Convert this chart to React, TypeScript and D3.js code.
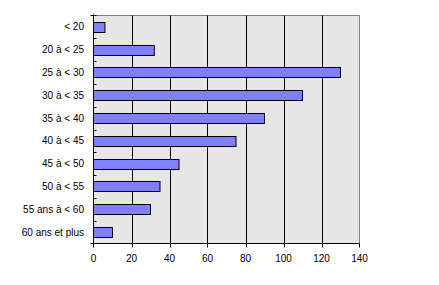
import React from "react";
import * as d3 from "d3";

const categories = ["< 20", "20 à < 25", "25 à < 30", "30 à < 35", "35 à < 40", "40 à < 45", "45 à < 50", "50 à < 55", "55 ans à < 60", "60 ans et plus"];
const values = [6, 32, 130, 110, 90, 75, 45, 35, 30, 10];
const xTicks = [0, 20, 40, 60, 80, 100, 120, 140];

const W = 439, H = 285;
const L = 93.5, R = 359.5, T = 15.5, B = 243.5;

export default function App() {
  const x = d3.scaleLinear().domain([0, 140]).range([L, R]);
  const y = d3.scaleBand<string>().domain(categories).range([T, B]).paddingInner(0.56).paddingOuter(0.28);
  const band = d3.scaleBand<string>().domain(categories).range([T, B]);
  const font = "'Liberation Sans', Arial, sans-serif";
  return (
    <svg width={W} height={H} style={{ position: "absolute", left: 0, top: 0 }} fontFamily={font} fontSize={10}>
      <rect x={0} y={0} width={W} height={H} fill="#fff" />
      <rect x={L} y={T} width={R - L} height={B - T} fill="#E6E6E6" />
      <path d={`M${L},${T}H${R}V${B}`} fill="none" stroke="#808080" />
      {xTicks.filter(t => t > 0 && t < 140).map(t => (
        <line key={t} x1={Math.round(x(t)) + 0.5} x2={Math.round(x(t)) + 0.5} y1={T} y2={B + 4} stroke="#000" />
      ))}
      {categories.map((c, i) => (
        <rect key={c} x={L} y={Math.round(y(c)!) + 0.5} width={x(values[i]) - L} height={Math.round(y.bandwidth())} fill="#8080FF" stroke="#000" />
      ))}
      <line x1={L} x2={L} y1={T - 1} y2={B + 4} stroke="#000" />
      <line x1={L - 3} x2={R} y1={B} y2={B} stroke="#000" />
      <line x1={R} x2={R} y1={B} y2={B + 4} stroke="#000" />
      <line x1={L - 3} x2={L + 3} y1={T} y2={T} stroke="#000" />
      {categories.slice(1).map(c => (
        <line key={c} x1={L} x2={L + 3} y1={Math.round(band(c)!) + 0.5} y2={Math.round(band(c)!) + 0.5} stroke="#000" />
      ))}
      {categories.map(c => (
        <text key={c} x={84} y={band(c)! + band.bandwidth() / 2 + 3.5} textAnchor="end" fill="#000">{c}</text>
      ))}
      {xTicks.map(t => (
        <text key={t} x={x(t)} y={262} textAnchor="middle" fill="#000">{t}</text>
      ))}
    </svg>
  );
}
